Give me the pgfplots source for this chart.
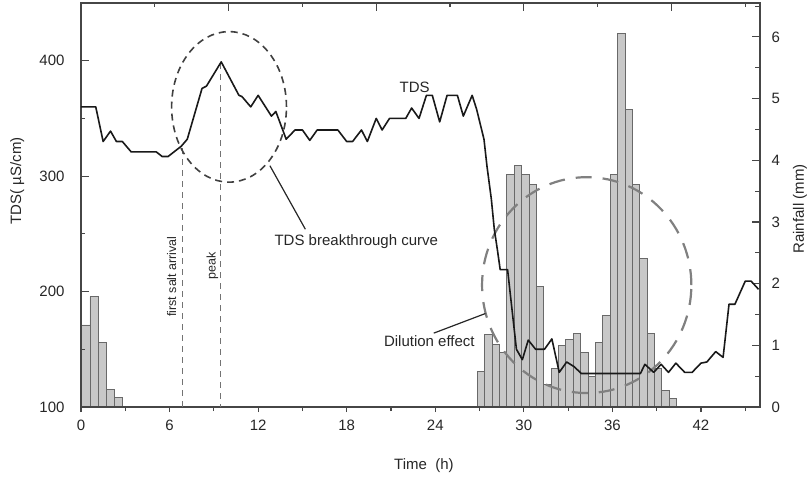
\documentclass[border=0pt]{standalone}
\usepackage{pgfplots}
\pgfplotsset{compat=1.18}
\usepackage{fontspec}
\setmainfont{Liberation Sans}
\definecolor{axgray}{RGB}{70,70,70}
\definecolor{barfill}{RGB}{200,200,200}
\definecolor{baredge}{RGB}{105,105,105}
\pgfplotsset{
  base/.style={
    scale only axis, width=679pt, height=404pt,
    xmin=0, xmax=46,
    axis line style={axgray, line width=1.3pt},
    every tick/.style={axgray, line width=1.1pt},
    /pgf/number format/assume math mode=true,
    tick label style={font=\fontsize{15}{17}\selectfont, text=black!85},
  }
}
\begin{document}
\begin{tikzpicture}
\useasboundingbox (-81pt,-70pt) rectangle (728pt,407pt);
% ---- rainfall axis (bars), right y ticks, top x ticks
\begin{axis}[base,
  ymin=0, ymax=6.55,
  xtick pos=top, xtick={10,20,30,40}, minor xtick={5,15,25,35,45},
  xticklabels={},
  ytick pos=right, ytick={0,1,2,3,4,5,6}, minor ytick={0.5,1.5,2.5,3.5,4.5,5.5,6.5},
  tick align=inside, major tick length=8pt, minor tick length=4.5pt,
  yticklabel shift=8pt,
  every axis y label/.style={at={(axis description cs:1.059,0.49)}, rotate=90, anchor=center,
    font=\fontsize{15}{18}\selectfont, text=black!85},
  ylabel={Rainfall (mm)},
]
\addplot[ybar, bar shift=0pt, bar width=0.55, fill=barfill, draw=baredge, line width=0.8pt] coordinates {
 (0.33,1.33) (0.88,1.79) (1.43,1.04) (1.98,0.28) (2.53,0.15)
};
\addplot[ybar, bar shift=0pt, bar width=0.5, fill=barfill, draw=baredge, line width=0.8pt] coordinates {
 (27.1,0.57) (27.6,1.17) (28.1,1.02) (28.6,0.88) (29.1,3.77) (29.6,3.92) (30.1,3.77)
 (30.6,3.61) (31.1,1.95) (31.6,0.36) (32.1,0.63) (32.6,1.00) (33.1,1.10) (33.6,1.19)
 (34.1,0.88) (34.6,0.50) (35.1,1.04) (35.6,1.48) (36.1,3.77) (36.6,6.05) (37.1,4.82)
 (37.6,3.61) (38.1,2.41) (38.6,1.19) (39.1,0.63) (39.6,0.27) (40.1,0.14)
};
\end{axis}
% ---- bottom x ticks axis
\begin{axis}[base,
  ymin=0, ymax=1, ytick=\empty,
  xtick pos=bottom, xtick={0,6,...,42}, minor xtick={3,9,...,45},
  tick align=outside, major tick length=5pt, minor tick length=4pt,
  xticklabel shift=4pt,
  every axis x label/.style={at={(axis description cs:0.505,-0.146)}, anchor=center,
    font=\fontsize{15}{18}\selectfont, text=black!85},
  xlabel={Time\ \ (h)},
]
\end{axis}
% ---- TDS axis
\begin{axis}[base,
  ymin=100, ymax=450,
  xtick=\empty,
  ytick pos=left, ytick={100,200,300,400}, minor ytick={150,250,350},
  tick align=inside, major tick length=8pt, minor tick length=4.5pt,
  yticklabel shift=13pt,
  every axis y label/.style={at={(axis description cs:-0.094,0.56)}, rotate=90, anchor=center,
    font=\fontsize{15}{18}\selectfont, text=black!85},
  ylabel={TDS( µS/cm)},
  clip=false,
]
% annotations
\draw[black!55, line width=1.1pt, dash pattern=on 6pt off 5pt] (axis cs:6.85,324) -- (axis cs:6.85,100);
\draw[black!55, line width=1.1pt, dash pattern=on 6pt off 5pt] (axis cs:9.47,398) -- (axis cs:9.47,100);
\node[rotate=90, font=\fontsize{12.5}{14}\selectfont, text=black!85] at (axis cs:6.15,213) {first salt arrival};
\node[rotate=90, font=\fontsize{12.5}{14}\selectfont, text=black!85] at (axis cs:8.9,222) {peak};
\draw[black!75, line width=1.6pt, dash pattern=on 7pt off 5pt] (axis cs:10.03,360) ellipse [x radius=3.89, y radius=65.2];
\draw[black!50, line width=2.2pt, dash pattern=on 16pt off 11pt] (axis cs:34.26,205.6) ellipse [x radius=7.09, y radius=93.5];
\draw[black!85, line width=1.2pt] (axis cs:12.8,309) -- (axis cs:15.2,254);
\draw[black!85, line width=1.2pt] (axis cs:23.9,164) -- (axis cs:27.4,181);
\node[font=\fontsize{15}{18}\selectfont, text=black!85] at (axis cs:22.6,377) {TDS};
\node[font=\fontsize{15}{18}\selectfont, text=black!85] at (axis cs:18.65,243) {TDS breakthrough curve};
\node[font=\fontsize{15}{18}\selectfont, text=black!85] at (axis cs:23.6,157) {Dilution effect};
\addplot[black!90, line width=1.6pt, line join=round] coordinates {
 (0,360) (1.0,360) (1.5,330) (2.0,339) (2.4,330) (2.8,330) (3.4,321) (5.1,321) (5.5,317)
 (5.9,317) (6.8,326) (7.2,332) (8.2,376) (8.5,378) (9.5,399) (10.7,370) (10.9,369)
 (11.5,360) (12.0,370) (12.9,352) (13.2,356) (13.9,332) (14.5,340) (15.0,340) (15.5,331)
 (16.0,340) (17.4,340) (18.0,330) (18.4,330) (19.0,340) (19.4,330) (20.0,350) (20.4,340)
 (20.9,350) (22.0,350) (22.4,359) (22.9,350) (23.4,370) (23.8,370) (24.3,347) (24.8,370)
 (25.5,370) (25.9,352) (26.5,370) (26.8,358) (27.3,332) (27.5,309) (27.8,280) (28.0,254)
 (28.2,237) (28.4,219) (28.9,219) (29.5,150) (29.9,141) (30.3,158) (30.8,150) (31.4,150)
 (31.9,159) (32.4,130) (32.9,139) (33.4,135) (33.9,129) (37.9,129) (38.2,137) (38.8,130)
 (39.3,137) (39.8,130) (40.3,138) (40.9,130) (41.4,130) (42.0,138) (42.4,139) (43.0,148)
 (43.5,143) (43.9,189) (44.3,189) (45.0,209) (45.4,209) (45.9,202)
};
\end{axis}
\end{tikzpicture}
\end{document}
